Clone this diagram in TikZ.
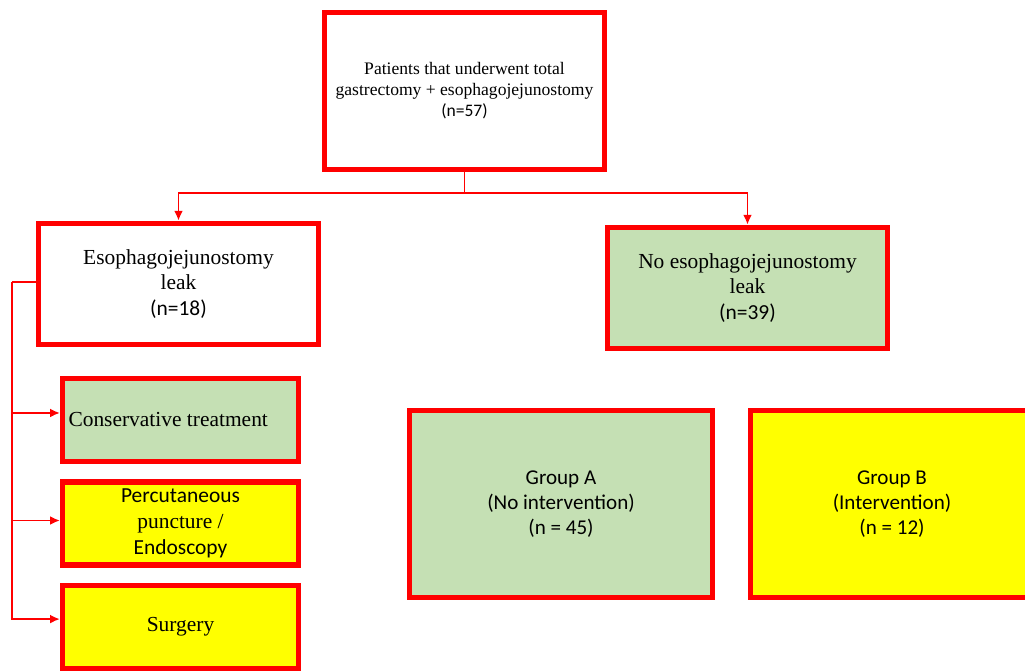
\documentclass[tikz,border=0pt]{standalone}
\usepackage{fontspec}
\setmainfont{Liberation Serif}
\newfontfamily\calibri{Carlito}
\usepackage{tikz}
\usetikzlibrary{arrows.meta,positioning}
\definecolor{leafgreen}{HTML}{C5E0B4}
\definecolor{leafyellow}{HTML}{FFFF00}
\tikzset{
  basic/.style  = {draw=red, line width=3.1pt, rectangle, align=center,
                   inner sep=2pt, font=\fontsize{12.2}{14.7}\selectfont},
  root/.style   = {basic, fill=white, minimum width=5.6cm, minimum height=3.14cm,
                   font=\fontsize{10}{11.9}\selectfont},
  level 1/.style = {basic, minimum width=5.6cm, minimum height=2.43cm},
  treat/.style  = {basic, minimum width=4.72cm, minimum height=1.66cm},
  group/.style  = {basic, minimum width=6.06cm, minimum height=3.74cm,
                   font=\calibri\fontsize{12}{14.2}\selectfont},
  link/.style   = {red, line width=0.9pt}
}

\begin{document}
\begin{tikzpicture}[x=0.02cm, y=-0.02cm, >={Latex[length=5.5pt,width=5pt]}]
\useasboundingbox (0,0) rectangle (1025,672);
\clip (0,0) rectangle (1025,672);

% root of the flow chart
\node[root] (c0) at (464.5,91)
  {Patients that underwent total\\gastrectomy + esophagojejunostomy\\{\calibri (n=57)}};

% the first level
\node[level 1, fill=white] (c1) at (178.5,284)
  {Esophagojejunostomy\\leak\\{\calibri (n=18)}};
\node[level 1, fill=leafgreen] (c2) at (747.5,288)
  {No esophagojejunostomy\\leak\\{\calibri (n=39)}};

% treatment of the leak, left column
\node[treat, fill=leafgreen] (c11) at (180.5,420) {\hspace*{-14pt}Conservative treatment};
\node[treat, fill=leafyellow] (c12) at (180.5,523.5)
  {{\calibri Percutaneous}\\puncture /\\{\calibri Endoscopy}};
\node[treat, fill=leafyellow] (c13) at (180.5,627) {Surgery};

% the two groups
\node[group, fill=leafgreen] (g1) at (561,504) {Group A\\(No intervention)\\(n = 45)};
\node[group, fill=leafyellow, minimum width=5.66cm] (g2) at (892,504)
  {Group B\\(Intervention)\\(n = 12)};

% lines from the root to the first level
\coordinate (split) at (464.5,193);
\draw[link] (c0.south) -- (split);
\draw[link,->] (split) -| (c1.north);
\draw[link,->] (split) -| (c2.north);

% lines from the leak node to every treatment
\coordinate (trunk) at (12,282);
\draw[link] (c1.west) ++(0,-2) -- (trunk);
\foreach \value/\dy in {1/4pt,2/1.7pt,3/4.5pt}
  \draw[link,->] (trunk) |- ([yshift=\dy] c1\value.west);

\end{tikzpicture}
\end{document}
